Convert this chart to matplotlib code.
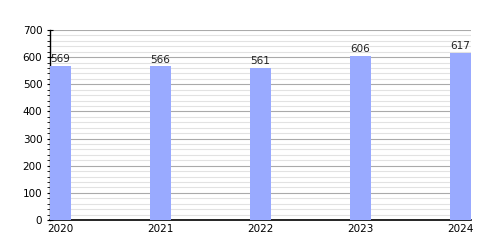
import matplotlib
matplotlib.use("Agg")
import matplotlib.pyplot as plt
from matplotlib.ticker import MultipleLocator

years = ["2020", "2021", "2022", "2023", "2024"]
values = [569, 566, 561, 606, 617]

fig = plt.figure(figsize=(5, 2.5), dpi=100)
ax = fig.add_axes([0.1, 0.12, 0.842, 0.76])

pos = list(range(len(years)))
ax.bar(pos, values, width=0.21, color="#99aaff", zorder=3)
for p, v in zip(pos, values):
    ax.text(p, v + 6, str(v), ha="center", va="bottom", fontsize=7.5, color="#222222")

ax.set_xlim(-0.105, 4.105)
ax.set_ylim(0, 700)
ax.yaxis.set_major_locator(MultipleLocator(100))
ax.yaxis.set_minor_locator(MultipleLocator(20))
ax.set_xticks(pos)
ax.set_xticklabels(years)
ax.tick_params(axis="x", length=0, labelsize=7.5, pad=3)
ax.tick_params(axis="y", which="major", length=4, labelsize=7.5, direction="inout")
ax.tick_params(axis="y", which="minor", length=2.5)

ax.grid(axis="y", which="major", color="#aaaaaa", linewidth=0.8, zorder=0)
ax.grid(axis="y", which="minor", color="#e2e2e2", linewidth=0.8, zorder=0)
ax.spines["top"].set_visible(False)
ax.spines["right"].set_visible(False)
ax.spines["left"].set_linewidth(1)
ax.spines["bottom"].set_linewidth(1.2)

fig.savefig("out.png", dpi=100)
